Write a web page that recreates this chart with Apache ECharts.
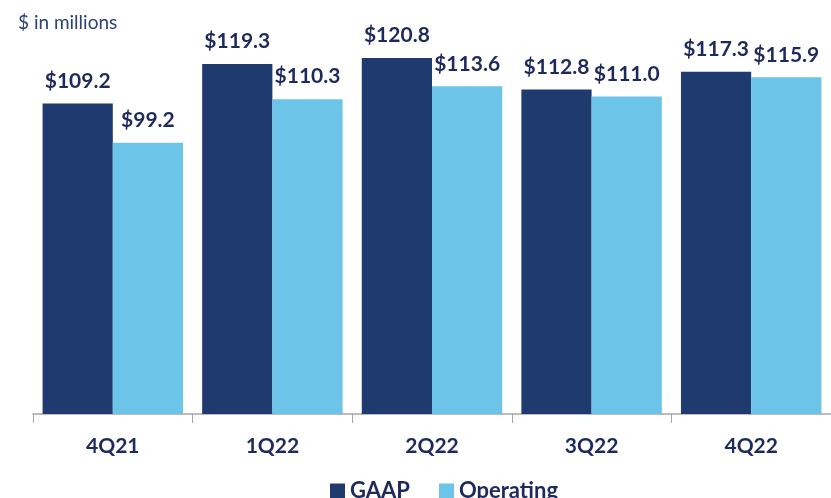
<!DOCTYPE html>
<html>
<head>
<meta charset="utf-8">
<script src="https://cdn.jsdelivr.net/npm/echarts@6/dist/echarts.min.js"></script>
<style>
  html, body { margin: 0; padding: 0; background: #fff; }
  #chart { width: 831px; height: 498px; }
</style>
</head>
<body>
<div id="chart"></div>
<script>
const quarters = ["4Q21", "1Q22", "2Q22", "3Q22", "4Q22"];
const gaap = [109.2, 119.3, 120.8, 112.8, 117.3];
const operating = [99.2, 110.3, 113.6, 111.0, 115.9];

const FONT = "Lato";
const NAVY_TEXT = "#1f2a5c";
const GAAP_COLOR = "#1f3a6e";
const OP_COLOR = "#6cc5e9";

const label = {
  show: true,
  position: "top",
  distance: 12,
  color: NAVY_TEXT,
  fontFamily: FONT,
  fontWeight: "bold",
  fontSize: 21,
  formatter: (p) => "$" + p.value.toFixed(1),
};

const chart = echarts.init(document.getElementById("chart"));
chart.setOption({
  animation: false,
  textStyle: { fontFamily: FONT },
  title: {
    text: "$ in millions",
    left: 13,
    top: 8,
    textStyle: { color: "#2c4274", fontFamily: FONT, fontWeight: "normal", fontSize: 19 },
  },
  legend: {
    left: 325,
    top: 475,
    itemWidth: 15,
    itemHeight: 15,
    itemGap: 29,
    icon: "rect",
    textStyle: { color: NAVY_TEXT, fontFamily: FONT, fontWeight: "bold", fontSize: 22 },
    data: ["GAAP", "Operating"],
  },
  grid: { left: 33, right: -2, top: 22, bottom: 84, containLabel: false },
  xAxis: {
    type: "category",
    data: quarters,
    axisLine: { lineStyle: { color: "#a6a6a6", width: 1.5 } },
    axisTick: { show: true, length: 9, lineStyle: { color: "#a6a6a6" } },
    axisLabel: { color: NAVY_TEXT, fontFamily: FONT, fontWeight: "bold", fontSize: 21, margin: 22 },
  },
  yAxis: {
    type: "value",
    min: 30,
    max: 130,
    show: false,
    splitLine: { show: false },
  },
  series: [
    {
      name: "GAAP",
      type: "bar",
      data: gaap,
      itemStyle: { color: GAAP_COLOR },
      barGap: "0%",
      barCategoryGap: "12%",
      label,
    },
    {
      name: "Operating",
      type: "bar",
      data: operating,
      itemStyle: { color: OP_COLOR },
      barGap: "0%",
      barCategoryGap: "12%",
      label,
    },
  ],
});
</script>
</body>
</html>
